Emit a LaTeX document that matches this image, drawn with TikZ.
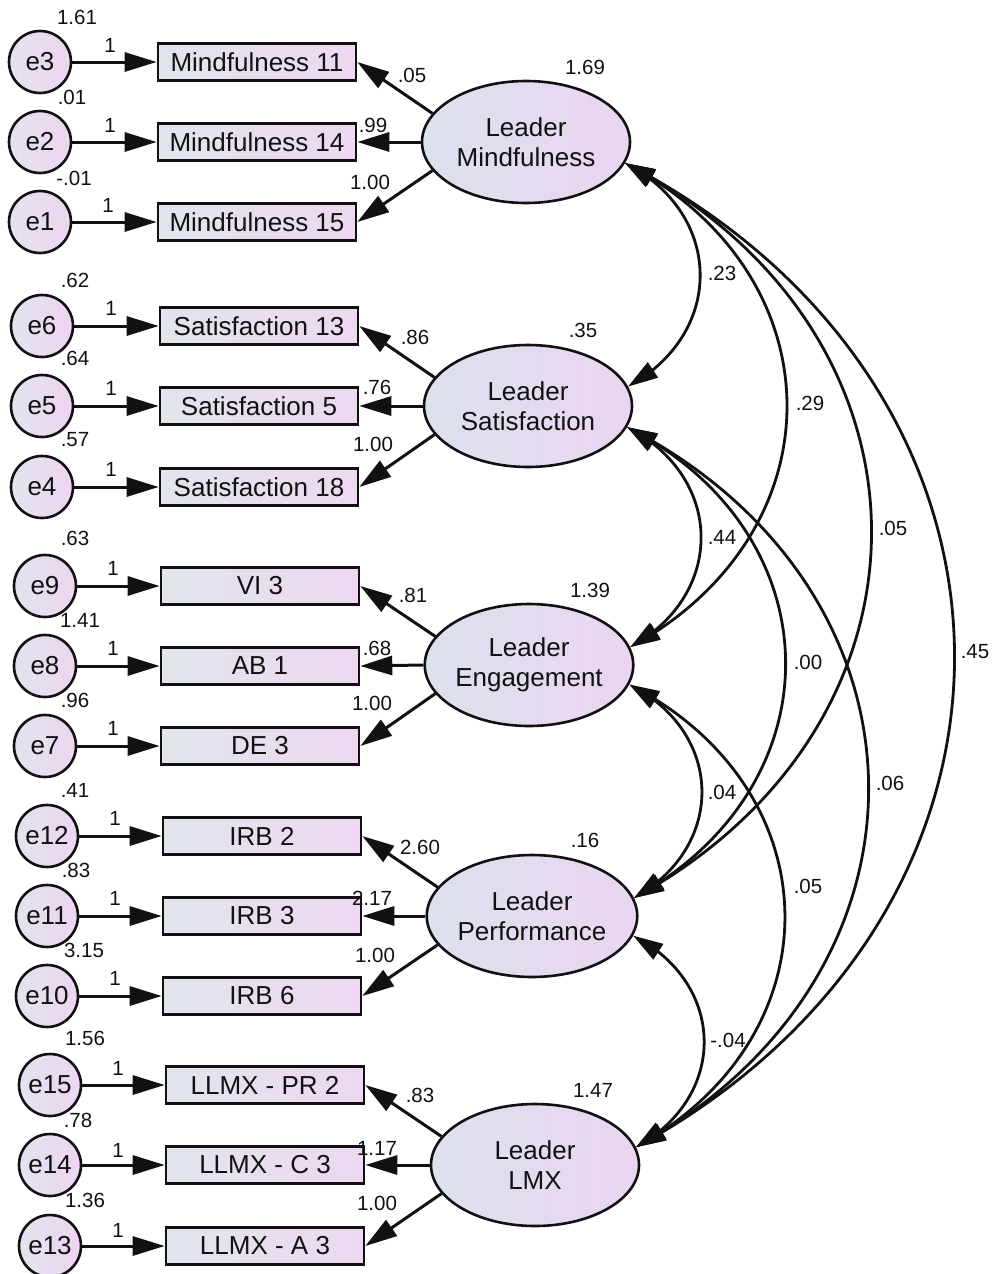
\documentclass[tikz,border=0pt]{standalone}
\usepackage{fontspec}
\setmainfont{Liberation Sans}
\usetikzlibrary{arrows.meta,bending,shapes.geometric}

\definecolor{lvL}{HTML}{DCE1EE}
\definecolor{lvR}{HTML}{EBD5F1}
\definecolor{bxL}{HTML}{E1E5EC}
\definecolor{bxR}{HTML}{EED8F1}
\definecolor{erL}{HTML}{E3E3EE}
\definecolor{erR}{HTML}{EDD5F0}
\definecolor{ink}{HTML}{111111}

\begin{document}
\begin{tikzpicture}[x=1pt,y=-1pt,
  outline/.style={line width=2.6pt, draw=ink},
  errnode/.style={circle, outline, minimum size=62pt, inner sep=0pt,
    left color=erL, right color=erR, text=ink, font=\fontsize{26}{30}\selectfont},
  obsbox/.style={rectangle, outline, minimum width=198pt, minimum height=37pt,
    inner sep=0pt, left color=bxL, right color=bxR, text=ink,
    font=\fontsize{26}{30}\selectfont},
  latent/.style={ellipse, outline, minimum width=208pt, minimum height=122pt,
    inner sep=0pt, left color=lvL, right color=lvR, align=center, text=ink,
    font=\fontsize{26}{30}\selectfont},
  num/.style={font=\fontsize{20.5}{24}\selectfont, inner sep=0pt, text=ink},
  load/.style={line width=3pt, draw=ink, -{Triangle[length=32pt,width=19pt]}},
  cov/.style={line width=2.8pt, draw=ink,
    {Triangle[length=30pt,width=18pt]}-{Triangle[length=30pt,width=18pt]}},
  covarc/.style={bend left=62, looseness=1.27},
]
\useasboundingbox (0,0) rectangle (995,1274);

% ---------------- latent variables ----------------
\node[latent] (LM) at (526,142) {Leader\\Mindfulness};
\node[latent] (LS) at (528,406) {Leader\\Satisfaction};
\node[latent] (LE) at (529,665) {Leader\\Engagement};
\node[latent] (LP) at (532,916) {Leader\\Performance};
\node[latent] (LX) at (535,1165) {Leader\\LMX};

% ---------------- observed indicators ----------------
\node[obsbox] (m11) at (257,62)  {Mindfulness 11};
\node[obsbox] (m14) at (257,142) {Mindfulness 14};
\node[obsbox] (m15) at (257,222) {Mindfulness 15};
\node[obsbox] (s13) at (259,326) {Satisfaction 13};
\node[obsbox] (s5)  at (259,406) {Satisfaction 5};
\node[obsbox] (s18) at (259,487) {Satisfaction 18};
\node[obsbox] (vi3) at (260,586) {VI 3};
\node[obsbox] (ab1) at (260,666) {AB 1};
\node[obsbox] (de3) at (260,746) {DE 3};
\node[obsbox] (irb2) at (262,836) {IRB 2};
\node[obsbox] (irb3) at (262,916) {IRB 3};
\node[obsbox] (irb6) at (262,996) {IRB 6};
\node[obsbox] (pr2) at (265,1085) {LLMX - PR 2};
\node[obsbox] (c3)  at (265,1165) {LLMX - C 3};
\node[obsbox] (a3)  at (265,1246) {LLMX - A 3};

% ---------------- error terms ----------------
\node[errnode] (e3)  at (40,62)   {e3};
\node[errnode] (e2)  at (40,142)  {e2};
\node[errnode] (e1)  at (40,222)  {e1};
\node[errnode] (e6)  at (42,326)  {e6};
\node[errnode] (e5)  at (42,406)  {e5};
\node[errnode] (e4)  at (42,487)  {e4};
\node[errnode] (e9)  at (45,586)  {e9};
\node[errnode] (e8)  at (45,666)  {e8};
\node[errnode] (e7)  at (45,746)  {e7};
\node[errnode] (e12) at (47,836)  {e12};
\node[errnode] (e11) at (47,916)  {e11};
\node[errnode] (e10) at (47,996)  {e10};
\node[errnode] (e15) at (50,1085) {e15};
\node[errnode] (e14) at (50,1165) {e14};
\node[errnode] (e13) at (50,1246) {e13};

% ---------------- error -> indicator paths ----------------
\foreach \e/\b in {e3/m11,e2/m14,e1/m15,e6/s13,e5/s5,e4/s18,e9/vi3,e8/ab1,e7/de3,
                   e12/irb2,e11/irb3,e10/irb6,e15/pr2,e14/c3,e13/a3}
  \draw[load] (\e.east) -- (\b.west);

% ---------------- factor loadings ----------------
\foreach \f/\a/\b/\c in {LM/m11/m14/m15, LS/s13/s5/s18, LE/vi3/ab1/de3,
                         LP/irb2/irb3/irb6, LX/pr2/c3/a3}{
  \draw[load] (\f.163) -- (\a.east);
  \draw[load] (\f.west) -- (\b.east);
  \draw[load] (\f.197) -- (\c.east);
}

% ---------------- covariances ----------------
\draw[cov] (LM.-12) to[covarc] (LS.11);
\draw[cov] (LM.-12) to[covarc] (LE.10);
\draw[cov] (LM.-12) to[covarc] (LP.10);
\draw[cov] (LM.-12) to[covarc] (LX.10);
\draw[cov] (LS.-12) to[covarc] (LE.10);
\draw[cov] (LS.-12) to[covarc] (LP.10);
\draw[cov] (LS.-12) to[covarc] (LX.10);
\draw[cov] (LE.-11) to[covarc] (LP.10);
\draw[cov] (LE.-11) to[covarc] (LX.10);
\draw[cov] (LP.-11) to[covarc] (LX.10);

% ---------------- error variances ----------------
\node[num] (v3)  at (77,17)   {1.61};
\node[num] (v2)  at (72,97)   {.01};
\node[num] (v1)  at (74,178)  {-.01};
\node[num] (v6)  at (75,280)  {.62};
\node[num] (v5)  at (75,358)  {.64};
\node[num] (v4)  at (75,440)  {.57};
\node[num] (v9)  at (75,538)  {.63};
\node[num] (v8)  at (80,620)  {1.41};
\node[num] (v7)  at (75,700)  {.96};
\node[num] (v12) at (75,790)  {.41};
\node[num] (v11) at (76,870)  {.83};
\node[num] (v10) at (84,950)  {3.15};
\node[num] (v15) at (85,1038) {1.56};
\node[num] (v14) at (78,1120) {.78};
\node[num] (v13) at (85,1200) {1.36};

% ---------------- fixed error weights ----------------
\node[num] (w3)  at (110,45)   {1};
\node[num] (w2)  at (110,125)  {1};
\node[num] (w1)  at (108,205)  {1};
\node[num] (w6)  at (111,308)  {1};
\node[num] (w5)  at (111,388)  {1};
\node[num] (w4)  at (111,469)  {1};
\node[num] (w9)  at (113,568)  {1};
\node[num] (w8)  at (113,648)  {1};
\node[num] (w7)  at (113,728)  {1};
\node[num] (w12) at (115,818)  {1};
\node[num] (w11) at (115,898)  {1};
\node[num] (w10) at (115,978)  {1};
\node[num] (w15) at (118,1068) {1};
\node[num] (w14) at (118,1150) {1};
\node[num] (w13) at (118,1230) {1};

% ---------------- loading estimates ----------------
\node[num] (l11) at (412,75)   {.05};
\node[num] (l14) at (373,125)  {.99};
\node[num] (l15) at (370,182)  {1.00};
\node[num] (l13) at (415,337)  {.86};
\node[num] (l5)  at (377,387)  {.76};
\node[num] (l18) at (373,444)  {1.00};
\node[num] (lvi) at (413,595)  {.81};
\node[num] (lab) at (377,648)  {.68};
\node[num] (lde) at (372,703)  {1.00};
\node[num] (li2) at (420,847)  {2.60};
\node[num] (li3) at (372,898)  {2.17};
\node[num] (li6) at (375,955)  {1.00};
\node[num] (lpr) at (420,1095) {.83};
\node[num] (lc3) at (377,1148) {1.17};
\node[num] (la3) at (377,1203) {1.00};

% ---------------- factor variances ----------------
\node[num] (fM) at (585,67)   {1.69};
\node[num] (fS) at (583,330)  {.35};
\node[num] (fE) at (590,590)  {1.39};
\node[num] (fP) at (585,840)  {.16};
\node[num] (fX) at (593,1090) {1.47};

% ---------------- covariance estimates ----------------
\node[num] (cMS) at (722,273)  {.23};
\node[num] (cME) at (810,403)  {.29};
\node[num] (cMP) at (893,528)  {.05};
\node[num] (cMX) at (975,652)  {.45};
\node[num] (cSE) at (722,537)  {.44};
\node[num] (cSP) at (808,662)  {.00};
\node[num] (cSX) at (890,783)  {.06};
\node[num] (cEP) at (722,792)  {.04};
\node[num] (cEX) at (808,886)  {.05};
\node[num] (cPX) at (728,1040) {-.04};
\end{tikzpicture}
\end{document}
